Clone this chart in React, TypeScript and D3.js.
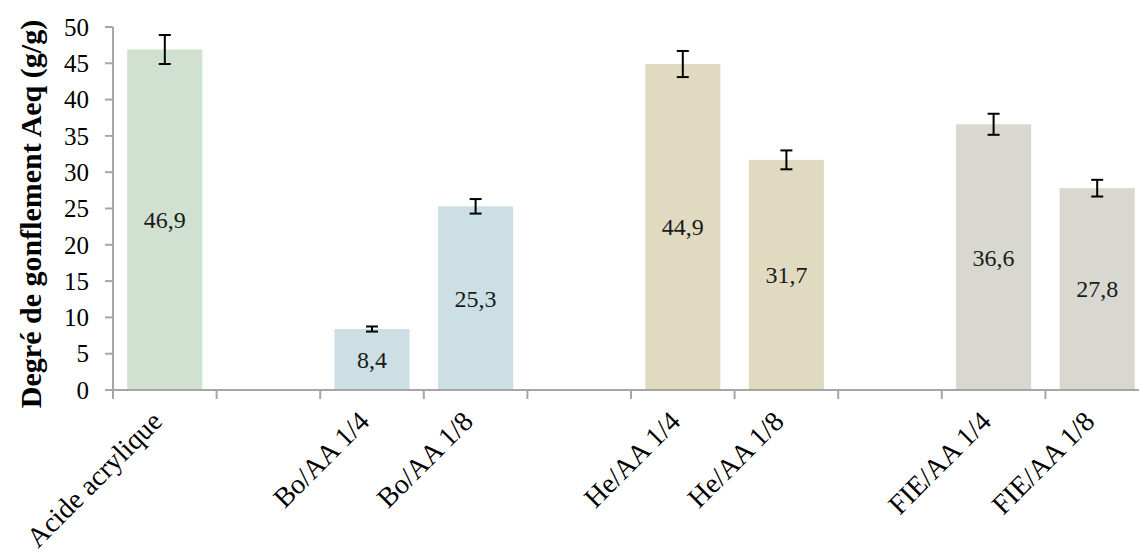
import React from "react";
import * as d3 from "d3";

const categories = ["Acide acrylique", "", "Bo/AA 1/4", "Bo/AA 1/8", "", "He/AA 1/4", "He/AA 1/8", "", "FIE/AA 1/4", "FIE/AA 1/8"];
const values: (number | null)[] = [46.9, null, 8.4, 25.3, null, 44.9, 31.7, null, 36.6, 27.8];
const errors: (number | null)[] = [2.0, null, 0.35, 1.0, null, 1.8, 1.3, null, 1.45, 1.15];
const valueLabels = ["46,9", "", "8,4", "25,3", "", "44,9", "31,7", "", "36,6", "27,8"];
const yTicks = [0, 5, 10, 15, 20, 25, 30, 35, 40, 45, 50];
const yTitle = "Degré de gonflement Aeq (g/g)";

const barColors = ["#D0E0D1", "#FFFFFF", "#CBDFE5", "#CBDFE5", "#FFFFFF", "#E0DBC0", "#E0DBC0", "#FFFFFF", "#D8D8D0", "#D8D8D0"];

const W = 1139;
const H = 559;
const FONT = "'Liberation Serif', 'Times New Roman', serif";

export default function App() {
  const idx = categories.map((_, i) => String(i));
  const x = d3.scaleBand<string>().domain(idx).range([113, 1149]).paddingInner(0).paddingOuter(0);
  const y = d3.scaleLinear().domain([0, 50]).range([390, 27]);
  const bw = x.bandwidth();
  const barW = bw * 0.725;
  const axisColor = "#A6A6A6";

  return (
    <div style={{ position: "fixed", left: 0, top: 0 }}>
      <svg width={W} height={H} style={{ display: "block", background: "#fff" }}>
        {/* bars */}
        {values.map((v, i) =>
          v == null ? null : (
            <rect
              key={"b" + i}
              x={(x(String(i)) as number) + (bw - barW) / 2}
              y={y(v)}
              width={barW}
              height={y(0) - y(v)}
              fill={barColors[i]}
            />
          )
        )}
        {/* value labels */}
        {values.map((v, i) =>
          v == null ? null : (
            <text
              key={"l" + i}
              x={(x(String(i)) as number) + bw / 2}
              y={y(v / 2)}
              dy="0.35em"
              textAnchor="middle"
              fontFamily={FONT}
              fontSize={24}
              fill="#1a1a1a"
            >
              {valueLabels[i]}
            </text>
          )
        )}
        {/* error bars */}
        {values.map((v, i) => {
          if (v == null || errors[i] == null) return null;
          const cx = (x(String(i)) as number) + bw / 2;
          const e = errors[i] as number;
          const y1 = y(v + e);
          const y2 = y(v - e);
          return (
            <g key={"e" + i} stroke="#000" strokeWidth={2}>
              <line x1={cx} x2={cx} y1={y1} y2={y2} />
              <line x1={cx - 6} x2={cx + 6} y1={y1} y2={y1} />
              <line x1={cx - 6} x2={cx + 6} y1={y2} y2={y2} />
            </g>
          );
        })}
        {/* y axis */}
        <line x1={113} x2={113} y1={y(50)} y2={y(0)} stroke={axisColor} strokeWidth={2} />
        {yTicks.map((t) => (
          <g key={"yt" + t}>
            <line x1={105} x2={113} y1={y(t)} y2={y(t)} stroke={axisColor} strokeWidth={2} />
            <text x={89} y={y(t)} dy="0.35em" textAnchor="end" fontFamily={FONT} fontSize={25} fill="#000">
              {t}
            </text>
          </g>
        ))}
        {/* x axis */}
        <line x1={105} x2={1149} y1={y(0)} y2={y(0)} stroke={axisColor} strokeWidth={2} />
        {d3.range(categories.length + 1).map((k) => {
          const xx = 113 + k * bw;
          return <line key={"xt" + k} x1={xx} x2={xx} y1={y(0)} y2={y(0) + 9} stroke={axisColor} strokeWidth={2} />;
        })}
        {categories.map((c, i) =>
          c === "" ? null : (
            <text
              key={"xl" + i}
              transform={`translate(${(x(String(i)) as number) + bw / 2 - 1},${423}) rotate(-45)`}
              textAnchor="end"
              fontFamily={FONT}
              fontSize={28}
              fill="#000"
            >
              {c}
            </text>
          )
        )}
        {/* y title */}
        <text
          transform={`translate(41,214) rotate(-90)`}
          textAnchor="middle"
          fontFamily={FONT}
          fontSize={30}
          fontWeight="bold"
          fill="#000"
        >
          {yTitle}
        </text>
      </svg>
    </div>
  );
}
